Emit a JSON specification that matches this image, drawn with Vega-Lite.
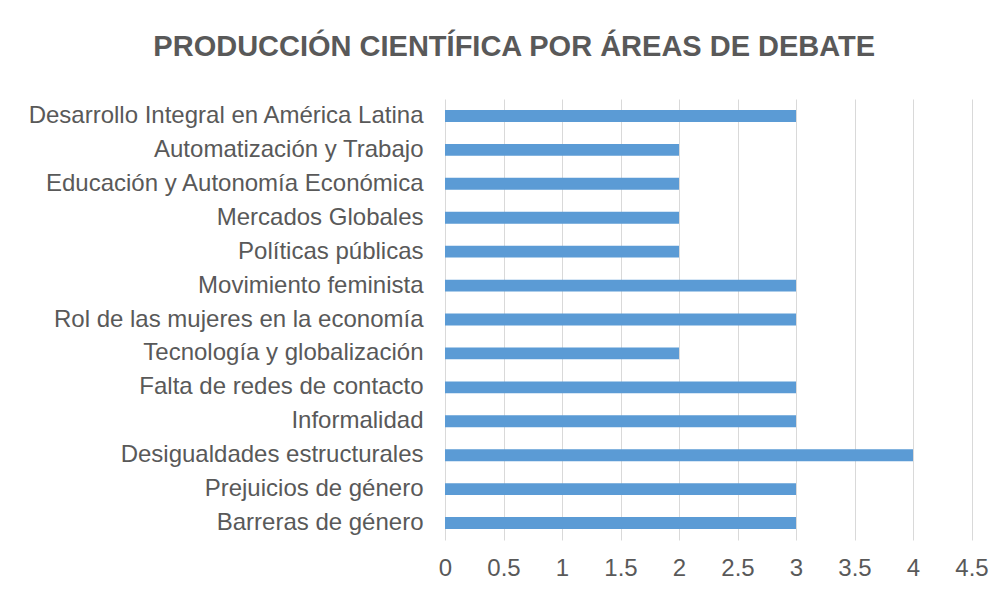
{
  "$schema": "https://vega.github.io/schema/vega-lite/v6.json",
  "autosize": {"type": "none"},
  "width": 526.5,
  "height": 441,
  "padding": {"left": 445, "top": 99, "right": 36.5, "bottom": 53},
  "background": "white",
  "title": {
    "text": "PRODUCCIÓN CIENTÍFICA POR ÁREAS DE DEBATE",
    "anchor": "middle",
    "dx": -194,
    "offset": 37,
    "font": "Arial",
    "fontSize": 29,
    "fontWeight": "bold",
    "color": "#595959"
  },
  "data": {
    "values": [
      {"area": "Desarrollo Integral en América Latina", "n": 3},
      {"area": "Automatización y Trabajo", "n": 2},
      {"area": "Educación y Autonomía Económica", "n": 2},
      {"area": "Mercados Globales", "n": 2},
      {"area": "Políticas públicas", "n": 2},
      {"area": "Movimiento feminista", "n": 3},
      {"area": "Rol de las mujeres en la economía", "n": 3},
      {"area": "Tecnología y globalización", "n": 2},
      {"area": "Falta de redes de contacto", "n": 3},
      {"area": "Informalidad", "n": 3},
      {"area": "Desigualdades estructurales", "n": 4},
      {"area": "Prejuicios de género", "n": 3},
      {"area": "Barreras de género", "n": 3}
    ]
  },
  "mark": {"type": "bar", "color": "#5B9BD5"},
  "encoding": {
    "y": {
      "field": "area",
      "type": "nominal",
      "sort": null,
      "scale": {"paddingInner": 0.65, "paddingOuter": 0.325},
      "axis": {
        "title": null,
        "domain": false,
        "ticks": false,
        "grid": false,
        "labelPadding": 22,
        "labelFont": "Arial",
        "labelFontSize": 24,
        "labelColor": "#595959",
        "labelLimit": 600
      }
    },
    "x": {
      "field": "n",
      "type": "quantitative",
      "scale": {"domain": [0, 4.5], "nice": false},
      "axis": {
        "title": null,
        "values": [0, 0.5, 1, 1.5, 2, 2.5, 3, 3.5, 4, 4.5],
        "format": "~g",
        "domain": false,
        "ticks": false,
        "grid": true,
        "gridColor": "#d9d9d9",
        "gridWidth": 1,
        "labelPadding": 16,
        "labelFont": "Arial",
        "labelFontSize": 24,
        "labelColor": "#595959",
        "labelFlush": false
      }
    }
  },
  "config": {"view": {"stroke": null}}
}
